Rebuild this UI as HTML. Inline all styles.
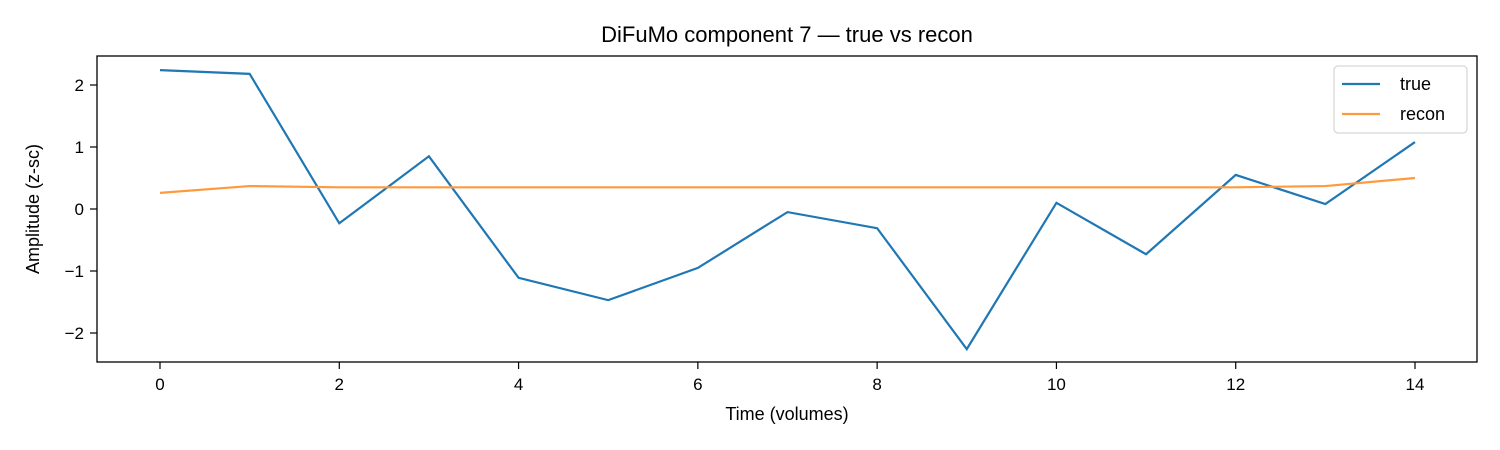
<!DOCTYPE html>
<html><head><meta charset="utf-8"><style>
body{margin:0;background:#fff;}
svg{display:block;font-family:"Liberation Sans","DejaVu Sans",sans-serif;}
</style></head><body>
<svg id="chart" width="1500" height="450">
<rect x="0" y="0" width="1500" height="450" fill="#fff"></rect>
<text x="787" y="42" text-anchor="middle" font-size="22" fill="#000">DiFuMo component 7 — true vs recon</text>
<g id="grid"></g>
<g id="series"></g>
<rect x="97" y="56" width="1380" height="306" fill="none" stroke="#000" stroke-width="1.3"></rect>
<text x="787" y="420" text-anchor="middle" font-size="18">Time (volumes)</text>
<text transform="translate(39,209) rotate(-90)" text-anchor="middle" font-size="18">Amplitude (z-sc)</text>
<g>
<rect x="1334" y="66" width="133" height="67" rx="4" fill="#fff" fill-opacity="0.8" stroke="#ccc"></rect>
<line x1="1342" y1="84" x2="1380" y2="84" stroke="#1f77b4" stroke-width="2.2"></line>
<text x="1400" y="90" font-size="18">true</text>
<line x1="1342" y1="114" x2="1380" y2="114" stroke="#ff9a3c" stroke-width="2.2"></line>
<text x="1400" y="120" font-size="18">recon</text>
</g>
</svg>
<script>
const xValues=[0,1,2,3,4,5,6,7,8,9,10,11,12,13,14];
const trueValues=[2.24,2.18,-0.23,0.85,-1.11,-1.47,-0.95,-0.05,-0.31,-2.26,0.10,-0.73,0.55,0.08,1.08];
const reconValues=[0.26,0.37,0.35,0.35,0.35,0.35,0.35,0.35,0.35,0.35,0.35,0.35,0.35,0.37,0.50];
const xTicks=[0,2,4,6,8,10,12,14];
const yTicks=[-2,-1,0,1,2];
const NS="http://www.w3.org/2000/svg";
function xs(v){return 160+v*(1415-160)/14;}
function ys(v){return 209-v*62;}
const grid=document.getElementById('grid');
xTicks.forEach(t=>{
  const l=document.createElementNS(NS,'line');
  l.setAttribute('x1',xs(t));l.setAttribute('x2',xs(t));l.setAttribute('y1',362);l.setAttribute('y2',369);
  l.setAttribute('stroke','#000');l.setAttribute('stroke-width','1.2');
  
  
  grid.appendChild(l);
  const tx=document.createElementNS(NS,'text');
  tx.setAttribute('x',xs(t));tx.setAttribute('y',390);tx.setAttribute('text-anchor','middle');tx.setAttribute('font-size','17');
  tx.textContent=t;
  
  
  grid.appendChild(tx);
});
yTicks.forEach(t=>{
  const l=document.createElementNS(NS,'line');
  l.setAttribute('x1',90);l.setAttribute('x2',97);l.setAttribute('y1',ys(t));l.setAttribute('y2',ys(t));
  l.setAttribute('stroke','#000');l.setAttribute('stroke-width','1.2');
  
  
  grid.appendChild(l);
  const tx=document.createElementNS(NS,'text');
  tx.setAttribute('x',84);tx.setAttribute('y',ys(t)+6);tx.setAttribute('text-anchor','end');tx.setAttribute('font-size','17');
  tx.textContent=t<0?'\u2212'+Math.abs(t):String(t);
  
  
  grid.appendChild(tx);
});
const series=document.getElementById('series');
function draw(vals,color,name){
  const p=document.createElementNS(NS,'polyline');
  p.setAttribute('points',vals.map((v,i)=>xs(xValues[i])+','+ys(v)).join(' '));
  p.setAttribute('fill','none');p.setAttribute('stroke',color);p.setAttribute('stroke-width','2.2');
  
  
  series.appendChild(p);
}
draw(trueValues,'#1f77b4','true-line');
draw(reconValues,'#ff9a3c','recon-line');
</script>
</body></html>
